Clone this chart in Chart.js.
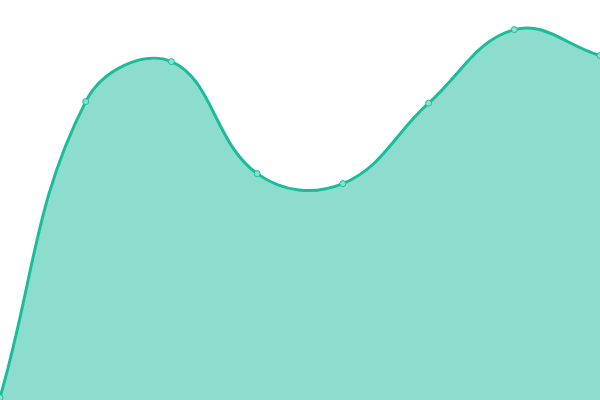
<!DOCTYPE html>
<html>
<head>
<meta charset="utf-8">
<script src="https://cdn.jsdelivr.net/npm/chart.js@4"></script>
<style>
  html, body { margin: 0; padding: 0; background: #fff; overflow: hidden; }
  /* chart.js keeps 5px round the plot for the end points; push that margin off screen */
  #wrap { position: absolute; left: -5px; top: -5px; width: 610px; height: 410px; }
</style>
</head>
<body>
<div id="wrap"><canvas id="myChart"></canvas></div>
<script>
  'use strict'

  // data (y axis 0..100)
  const labels = ['1', '2', '3', '4', '5', '6', '7', '8']
  const values = [0.6, 74.6, 84.6, 56.6, 54.1, 74.2, 92.6, 86.1]

  const ctx = document.getElementById('myChart')
  new Chart(ctx, {
    type: 'line',
    data: {
      labels: labels,
      datasets: [{
        data: values,
        tension: 0.4,
        fill: 'start',
        backgroundColor: 'rgba(26, 188, 156, 0.5)',
        borderColor: '#1abc9c',
        borderWidth: 3,
        pointRadius: 3,
        pointBorderWidth: 1,
        pointBackgroundColor: '#8ce0cf',
        pointBorderColor: '#1abc9c'
      }]
    },
    options: {
      responsive: true,
      maintainAspectRatio: false,
      animation: false,
      layout: { padding: 0 },
      scales: {
        x: { display: false, offset: false },
        y: { display: false, min: 0, max: 100 }
      },
      plugins: {
        legend: { display: false },
        tooltip: { enabled: false }
      }
    }
  })
</script>
</body>
</html>
